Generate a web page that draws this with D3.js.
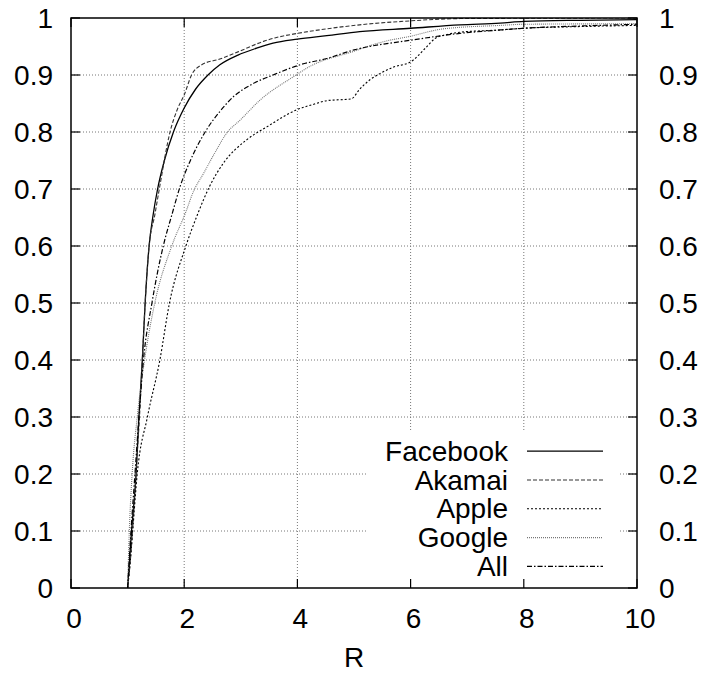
<!DOCTYPE html>
<html>
<head>
    <meta charset="utf-8">
    <title>CDF of R</title>
    <script src="https://cdn.jsdelivr.net/npm/d3@7/dist/d3.min.js" type="text/javascript"></script>
</head>
<body style="margin:0;background:#fff;">
<style type="text/css">
    text {font-family: "Liberation Sans", Arial, sans-serif; font-size: 28px; fill: #000;}
    .grid line {stroke: #777; stroke-width: 1; stroke-dasharray: 1,2;}
    .frame {fill: none; stroke: #000; stroke-width: 1.5;}
    .tick-mark {stroke: #000; stroke-width: 1.2;}
    path.series {fill: none;}
</style>

<div id="container"></div>

<script type="text/javascript">
    const w = 706;
    const h = 675;

    // tick values
    const xTicks = [0, 2, 4, 6, 8, 10];
    const yTicks = [0, 0.1, 0.2, 0.3, 0.4, 0.5, 0.6, 0.7, 0.8, 0.9, 1];

    // series, [R, cumulative fraction]
    const facebook = [[1,0],[1.07,0.1],[1.15,0.2],[1.2,0.3],[1.26,0.4],[1.31,0.5],[1.38,0.6],[1.45,0.654],
        [1.53,0.7],[1.65,0.75],[1.81,0.8],[2.0,0.842],[2.2,0.875],[2.42,0.9],[2.63,0.918],[2.95,0.935],
        [3.28,0.947],[3.57,0.956],[4.0,0.963],[4.52,0.969],[5.1,0.976],[6.0,0.982],[6.87,0.988],
        [7.58,0.991],[8,0.994],[9,0.996],[10,0.997]];
    const akamai = [[1,0],[1.05,0.05],[1.1,0.12],[1.16,0.22],[1.21,0.3],[1.26,0.4],[1.31,0.5],[1.38,0.6],
        [1.48,0.654],[1.56,0.7],[1.75,0.8],[1.88,0.84],[2.0,0.865],[2.13,0.9],[2.31,0.918],[2.63,0.928],
        [2.96,0.941],[3.4,0.959],[3.6,0.965],[4.0,0.973],[4.52,0.981],[5.1,0.988],[6.0,0.995],
        [6.87,0.999],[10,1]];
    const apple = [[1,0],[1.05,0.05],[1.09,0.1],[1.17,0.2],[1.35,0.3],[1.57,0.4],[1.74,0.5],[2.03,0.6],
        [2.23,0.654],[2.45,0.705],[2.69,0.745],[3.1,0.786],[3.46,0.809],[3.99,0.839],[4.3,0.849],
        [4.52,0.855],[4.95,0.858],[5.1,0.875],[5.3,0.893],[5.45,0.902],[5.7,0.914],[6.0,0.923],
        [6.28,0.949],[6.43,0.964],[6.64,0.971],[6.87,0.975],[7.58,0.979],[8,0.982],[9,0.985],[10,0.987]];
    const google = [[1,0],[1.03,0.1],[1.08,0.2],[1.17,0.3],[1.3,0.4],[1.48,0.5],[1.78,0.6],[2.03,0.66],
        [2.16,0.695],[2.34,0.727],[2.55,0.765],[2.75,0.798],[2.99,0.821],[3.34,0.856],[3.93,0.897],
        [4.22,0.915],[4.98,0.941],[5.5,0.958],[6.0,0.968],[6.58,0.981],[7.58,0.987],[8,0.989],[10,0.99]];
    const all = [[1,0],[1.06,0.1],[1.13,0.2],[1.2,0.3],[1.28,0.4],[1.43,0.5],[1.63,0.6],[1.78,0.654],
        [1.93,0.705],[2.1,0.748],[2.37,0.8],[2.63,0.836],[2.87,0.862],[3.2,0.884],[3.57,0.9],[4.05,0.918],
        [4.52,0.929],[5.0,0.944],[6.0,0.961],[6.87,0.973],[7.58,0.979],[8,0.982],[9,0.986],[10,0.989]];

    const names = ['Facebook', 'Akamai', 'Apple', 'Google', 'All'];
    const seriesData = [facebook, akamai, apple, google, all];

    const styles = [
        {stroke: '#000', width: 1.3, dash: null},
        {stroke: '#333', width: 1.1, dash: '4,2'},
        {stroke: '#000', width: 1.1, dash: '2,2'},
        {stroke: '#777', width: 1.1, dash: '1,1'},
        {stroke: '#000', width: 1.2, dash: '5,2,1.5,2'},
    ];

    const margin = {top: 18, left: 71, bottom: 87, right: 69};
    const pw = w - margin.left - margin.right;
    const ph = h - margin.top - margin.bottom;

    const svg = d3.select('div#container')
        .append('svg')
        .attr('width', w)
        .attr('height', h);

    const main = svg.append('g')
        .attr('transform', `translate(${margin.left}, ${margin.top})`);

    const x = d3.scaleLinear().domain([0, 10]).range([0, pw]);
    const y = d3.scaleLinear().domain([0, 1]).range([ph, 0]);

    svg.append('defs').append('clipPath').attr('id', 'clip')
        .append('rect').attr('width', pw).attr('height', ph);

    // grid
    const grid = main.append('g').attr('class', 'grid');
    yTicks.filter(d => d > 0 && d < 1).map(d => {
        grid.append('line')
            .attr('x1', 0).attr('x2', pw)
            .attr('y1', y(d)).attr('y2', y(d));
    });
    xTicks.filter(d => d > 0 && d < 10).map(d => {
        grid.append('line')
            .attr('x1', x(d)).attr('x2', x(d))
            .attr('y1', 0).attr('y2', ph);
    });

    // curves
    const line = d3.line()
        .x(d => x(d[0]))
        .y(d => y(d[1]))
        .curve(d3.curveMonotoneX);

    const curves = main.append('g').attr('clip-path', 'url(#clip)');
    seriesData.map((d, i) => {
        curves.append('path')
            .attr('class', 'series')
            .attr('d', line(d))
            .style('stroke', styles[i].stroke)
            .style('stroke-width', styles[i].width)
            .style('stroke-dasharray', styles[i].dash);
    });

    // legend, on a white box
    const lg = main.append('g');
    lg.append('rect')
        .attr('x', 296).attr('y', 412)
        .attr('width', 253).attr('height', ph - 412)
        .style('fill', '#fff');
    names.map((name, i) => {
        const by = 442.7 + i * 28.8;
        lg.append('text')
            .attr('x', 437).attr('y', by)
            .attr('text-anchor', 'end')
            .text(name);
        lg.append('line')
            .attr('x1', 456).attr('x2', 532)
            .attr('y1', by - 9.5).attr('y2', by - 9.5)
            .style('stroke', styles[i].stroke)
            .style('stroke-width', styles[i].width)
            .style('stroke-dasharray', styles[i].dash);
    });

    // tick marks
    const tl = 9;
    yTicks.map(d => {
        main.append('line').attr('class', 'tick-mark')
            .attr('x1', 0).attr('x2', tl).attr('y1', y(d)).attr('y2', y(d));
        main.append('line').attr('class', 'tick-mark')
            .attr('x1', pw - tl).attr('x2', pw).attr('y1', y(d)).attr('y2', y(d));
    });
    xTicks.map(d => {
        main.append('line').attr('class', 'tick-mark')
            .attr('x1', x(d)).attr('x2', x(d)).attr('y1', ph).attr('y2', ph - tl);
        main.append('line').attr('class', 'tick-mark')
            .attr('x1', x(d)).attr('x2', x(d)).attr('y1', 0).attr('y2', tl);
    });

    main.append('rect').attr('class', 'frame')
        .attr('width', pw).attr('height', ph);

    // tick labels
    yTicks.map(d => {
        main.append('text')
            .attr('x', -18).attr('y', y(d)).attr('dy', '0.35em')
            .attr('text-anchor', 'end')
            .text(d3.format('~g')(d));
        main.append('text')
            .attr('x', pw + 22).attr('y', y(d)).attr('dy', '0.35em')
            .text(d3.format('~g')(d));
    });
    xTicks.map(d => {
        main.append('text')
            .attr('x', x(d) + 3).attr('y', ph + 39.5)
            .attr('text-anchor', 'middle')
            .text(d);
    });

    main.append('text')
        .attr('x', pw / 2).attr('y', ph + 79)
        .attr('text-anchor', 'middle')
        .text('R');
</script>
</body>
</html>
